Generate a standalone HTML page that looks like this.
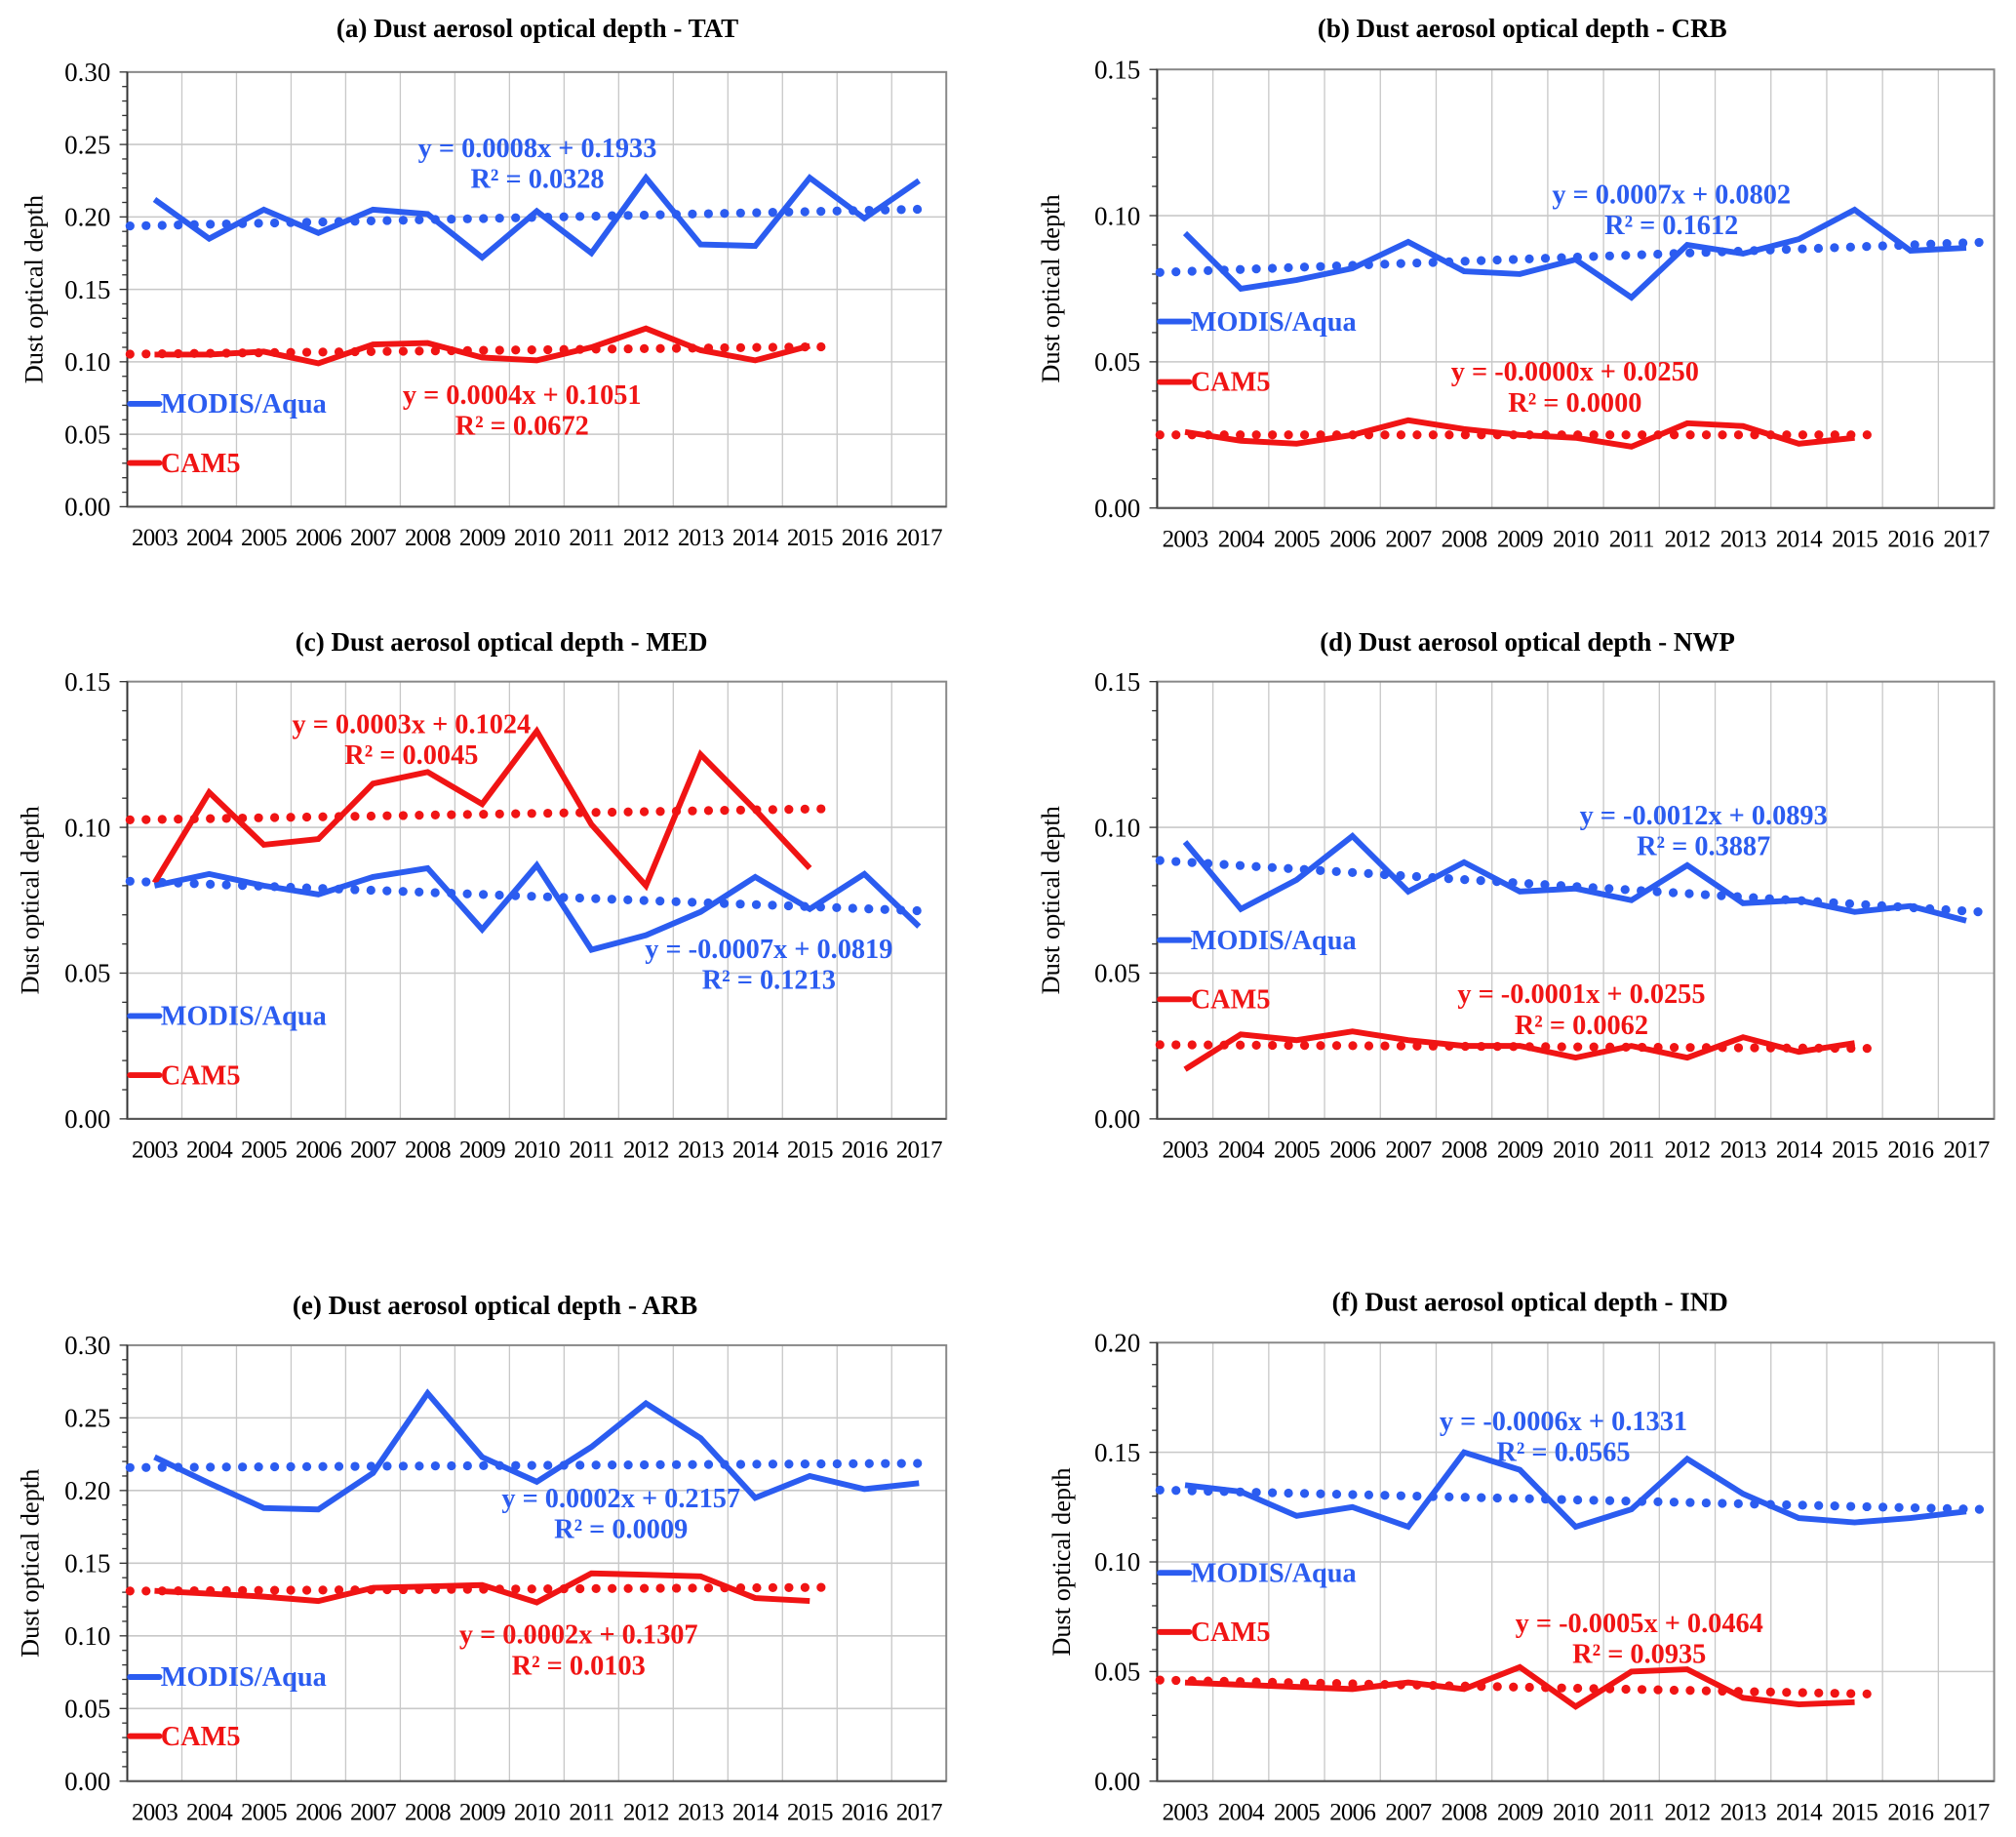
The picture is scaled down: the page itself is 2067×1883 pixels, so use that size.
<!DOCTYPE html>
<html><head><meta charset="utf-8"><style>
html,body{margin:0;padding:0;background:#fff}
svg{display:block;font-family:"Liberation Serif",serif}
</style></head><body>
<svg id="fig" width="2067" height="1883" viewBox="0 0 1568 1428.4" xmlns="http://www.w3.org/2000/svg"></svg>
<script>
const years = ["2003","2004","2005","2006","2007","2008","2009","2010","2011","2012","2013","2014","2015","2016","2017"];
const tatModis = [.212,.185,.205,.189,.205,.202,.172,.204,.175,.227,.181,.180,.227,.199,.225];
const tatCam = [.105,.105,.107,.099,.112,.113,.103,.101,.110,.123,.108,.101,.111];
const crbModis = [.094,.075,.078,.082,.091,.081,.080,.085,.072,.090,.087,.092,.102,.088,.089];
const crbCam = [.026,.023,.022,.025,.030,.027,.025,.024,.021,.029,.028,.022,.024];
const medModis = [.080,.084,.080,.077,.083,.086,.065,.087,.058,.063,.071,.083,.072,.084,.066];
const medCam = [.081,.112,.094,.096,.115,.119,.108,.133,.101,.080,.125,.106,.086];
const nwpModis = [.095,.072,.082,.097,.078,.088,.078,.079,.075,.087,.074,.075,.071,.073,.068];
const nwpCam = [.017,.029,.027,.030,.027,.025,.025,.021,.025,.021,.028,.023,.026];
const arbModis = [.223,.205,.188,.187,.212,.267,.223,.206,.230,.260,.236,.195,.210,.201,.205];
const arbCam = [.131,.129,.127,.124,.133,.134,.135,.123,.143,.142,.141,.126,.124];
const indModis = [.135,.132,.121,.125,.116,.150,.142,.116,.124,.147,.131,.120,.118,.120,.123];
const indCam = [.045,.044,.043,.042,.045,.042,.052,.034,.050,.051,.038,.035,.036];
const modisTrend = [[0.0008,0.1933],[0.0007,0.0802],[-0.0007,0.0819],[-0.0012,0.0893],[0.0002,0.2157],[-0.0006,0.1331]];
const camTrend = [[0.0004,0.1051],[-0.0000,0.0250],[0.0003,0.1024],[-0.0001,0.0255],[0.0002,0.1307],[-0.0005,0.0464]];
const modisEq = [["y = 0.0008x + 0.1933","R² = 0.0328"],["y = 0.0007x + 0.0802","R² = 0.1612"],["y = -0.0007x + 0.0819","R² = 0.1213"],["y = -0.0012x + 0.0893","R² = 0.3887"],["y = 0.0002x + 0.2157","R² = 0.0009"],["y = -0.0006x + 0.1331","R² = 0.0565"]];
const camEq = [["y = 0.0004x + 0.1051","R² = 0.0672"],["y = -0.0000x + 0.0250","R² = 0.0000"],["y = 0.0003x + 0.1024","R² = 0.0045"],["y = -0.0001x + 0.0255","R² = 0.0062"],["y = 0.0002x + 0.1307","R² = 0.0103"],["y = -0.0005x + 0.0464","R² = 0.0935"]];
const titles = ["(a) Dust aerosol optical depth - TAT","(b) Dust aerosol optical depth - CRB","(c) Dust aerosol optical depth - MED","(d) Dust aerosol optical depth - NWP","(e) Dust aerosol optical depth - ARB","(f) Dust aerosol optical depth - IND"];
const yMaxes = [0.30,0.15,0.15,0.15,0.30,0.20];
const modisSeries = [tatModis,crbModis,medModis,nwpModis,arbModis,indModis];
const camSeries = [tatCam,crbCam,medCam,nwpCam,arbCam,indCam];

// layout (not data)
const panels = [
 {l:99,r:736,t:56,b:394,tx:418,ty:22,yl:27,leg:[314,360],me:[418,115],ce:[406,307]},
 {l:900,r:1551,t:54,b:395,tx:1184,ty:22,yl:818,leg:[250,297],me:[1300,151],ce:[1225,289]},
 {l:99,r:736,t:530,b:870,tx:390,ty:499,yl:24,leg:[790,836],me:[598,738],ce:[320,563]},
 {l:900,r:1551,t:530,b:870,tx:1188,ty:499,yl:818,leg:[731,777],me:[1325,634],ce:[1230,773]},
 {l:99,r:736,t:1046,b:1385,tx:385,ty:1015,yl:24,leg:[1304,1350],me:[483,1165],ce:[450,1271]},
 {l:900,r:1551,t:1044,b:1385,tx:1190,ty:1012,yl:826,leg:[1223,1269],me:[1216,1105],ce:[1275,1262]}
];
const BLUE="#2b5cf0", RED="#f01414";
const svg=document.getElementById('fig');
const NS="http://www.w3.org/2000/svg";
function mk(tag,attrs,parent){const e=document.createElementNS(NS,tag);for(const k in attrs)e.setAttribute(k,attrs[k]);(parent||svg).appendChild(e);return e;}
function txt(s,attrs,parent){const e=mk('text',attrs,parent);e.textContent=s;return e;}

panels.forEach((p,i)=>{
  const g=mk('g',{});
  
  
  const ymax=yMaxes[i];
  const n=years.length, cw=(p.r-p.l)/n;
  const X=k=>p.l+cw*(k+0.5);
  const Xc=x=>p.l+cw*(x-0.5);
  const Y=v=>p.b-(v/ymax)*(p.b-p.t);
  for(let k=1;k<n;k++){const gl=mk('line',{x1:p.l+cw*k,x2:p.l+cw*k,y1:p.t,y2:p.b,stroke:'#c8c8c8','stroke-width':1},g);
    }
  for(let v=0.05;v<ymax+1e-9;v+=0.05){const gl=mk('line',{x1:p.l,x2:p.r,y1:Y(v),y2:Y(v),stroke:'#c8c8c8','stroke-width':1.2},g);
    }
  const fr=mk('rect',{x:p.l,y:p.t,width:p.r-p.l,height:p.b-p.t,fill:'none',stroke:'#888','stroke-width':1.5},g);
  
  mk('line',{x1:p.l,x2:p.l,y1:p.t,y2:p.b,stroke:'#333','stroke-width':1.5},g);
  mk('line',{x1:p.l,x2:p.r,y1:p.b,y2:p.b,stroke:'#555','stroke-width':1.5},g);
  const steps=Math.round(ymax/0.01);
  for(let s=0;s<=steps;s++){const v=s*0.01;const major=s%5===0;
    mk('line',{x1:p.l-(major?6:4),x2:p.l,y1:Y(v),y2:Y(v),stroke:'#333','stroke-width':1},g);
    if(major){const t=txt(v.toFixed(2),{x:p.l-13,y:Y(v)+7,'text-anchor':'end','font-size':20.5},g);
      }}
  years.forEach((yr,k)=>{const t=txt(yr,{x:X(k),y:p.b+30,'text-anchor':'middle','font-size':19,'letter-spacing':-0.6},g);
    });
  const cy=(p.t+p.b)/2;
  const yl=txt('Dust optical depth',{x:p.yl,y:cy,'text-anchor':'middle','font-size':20,transform:`rotate(-90 ${p.yl} ${cy})`,dy:6},g);
  
  const tt=txt(titles[i],{x:p.tx,y:p.ty+7,'text-anchor':'middle','font-size':20.5,'font-weight':'bold'},g);
  
  [[modisTrend[i],BLUE,n,'modis-trendline'],[camTrend[i],RED,camSeries[i].length,'cam5-trendline']].forEach(([c,col,N,name])=>{
    const x0=0.55,x1=N+0.25;
    const l=mk('line',{x1:Xc(x0),y1:Y(c[0]*x0+c[1]),x2:Xc(x1),y2:Y(c[0]*x1+c[1]),stroke:col,'stroke-width':7,'stroke-linecap':'round','stroke-dasharray':'0 12.5'},g);
    });
  [[camSeries[i],RED,'cam5-line'],[modisSeries[i],BLUE,'modis-aqua-line']].forEach(([arr,col,name])=>{
    const pts=arr.map((v,k)=>X(k).toFixed(1)+','+Y(v).toFixed(1)).join(' ');
    const pl=mk('polyline',{points:pts,fill:'none',stroke:col,'stroke-width':4.5,'stroke-linejoin':'miter'},g);
    });
  [[p.leg[0],BLUE,'MODIS/Aqua','legend-modis-aqua'],[p.leg[1],RED,'CAM5','legend-cam5']].forEach(([yy,col,label,name])=>{
    const lg=mk('g',{},g);
    mk('line',{x1:p.l+2,x2:p.l+25,y1:yy,y2:yy,stroke:col,'stroke-width':4.5,'stroke-linecap':'round'},lg);
    txt(label,{x:p.l+26,y:yy+7,fill:col,'font-size':21.5,'font-weight':'bold'},lg);});
  [[p.me,modisEq[i],BLUE,'modis-trend-equation'],[p.ce,camEq[i],RED,'cam5-trend-equation']].forEach(([pos,eq,col,name])=>{
    const t=txt('',{x:pos[0],y:pos[1]+7,fill:col,'font-size':21.5,'font-weight':'bold','text-anchor':'middle'},g);
    
    const a=document.createElementNS(NS,'tspan');a.setAttribute('x',pos[0]);a.textContent=eq[0];t.appendChild(a);
    const b=document.createElementNS(NS,'tspan');b.setAttribute('x',pos[0]);b.setAttribute('dy',24);b.textContent=eq[1];t.appendChild(b);});
});
</script>
</body></html>
